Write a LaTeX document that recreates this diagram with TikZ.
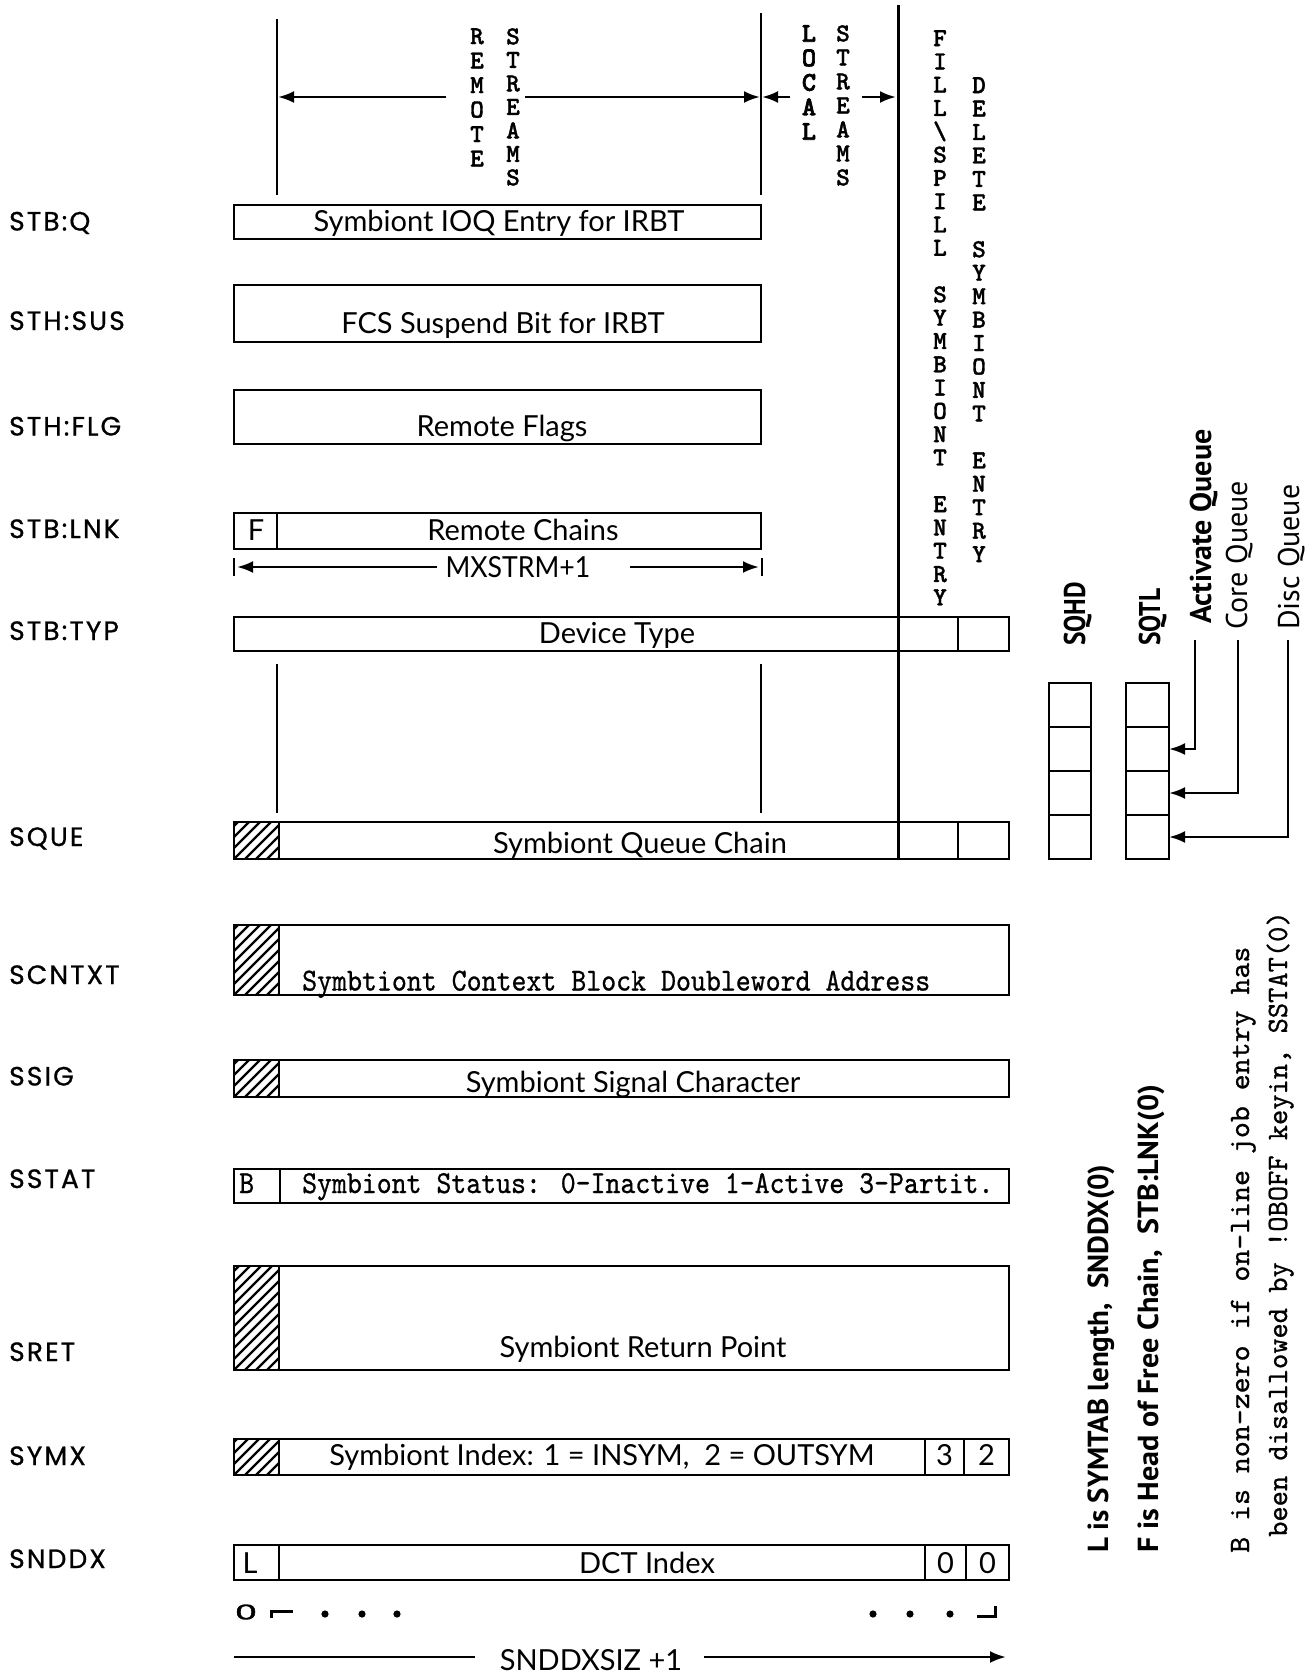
\documentclass[tikz,border=0pt]{standalone}
\usepackage{fontspec}
\setmainfont{Lato}
\newfontfamily\lblfont[LetterSpace=8,FakeBold=0.8]{Poppins}
\newfontfamily\ptfont{PT Sans}
\newfontfamily\ptfontfb[FakeBold=1.5]{PT Sans}
\newfontfamily\vfont[FakeBold=1.2]{lmmonolt10-bold.otf}
\newfontfamily\vfontb[FakeBold=2.4]{lmmonolt10-bold.otf}
\newfontfamily\twfont[FakeBold=0.8]{lmmono10-regular.otf}
\usetikzlibrary{arrows.meta}
\newcommand\hatchcell[4]{%
  \begin{scope}
    \clip (#1,#2) rectangle (#3,#4);
    \foreach \k in {0,11,...,176}{\draw[line width=2.2pt] (#1-110+\k,#4) -- ++(120,-120);}
  \end{scope}}
\begin{document}
\begin{tikzpicture}[x=1pt,y=-1pt,line join=miter,
  bx/.style={draw=black, line width=2.7pt},
  lbl/.style={anchor=base west, inner sep=0pt, font=\lblfont\fontsize{26.5}{30}\selectfont},
  bt/.style={anchor=base, inner sep=0pt, font=\fontsize{29}{32}\selectfont},
  tt/.style={anchor=base west, inner sep=0pt, font=\twfont\fontsize{32}{34}\selectfont},
  vl/.style={anchor=north, inner sep=0pt, align=center, font=\vfont\fontsize{26}{24.5}\selectfont},
  rot/.style={rotate=90, anchor=base west, inner sep=0pt},
  tip/.style={-{Latex[length=16pt,width=12pt]}},
  cell/.style={draw, line width=2.7pt, minimum height=44pt, anchor=north west, inner sep=0pt, outer sep=0pt},
]
\useasboundingbox[fill=white] (0,0) rectangle (1316,1674);

% ---------- top dimension lines ----------
\draw[line width=2.8pt] (277,19) -- (277,195);
\draw[line width=2.8pt] (761,13) -- (761,195);
\draw[line width=3pt] (898,5) -- (898,859);
\draw[line width=2.6pt, tip] (446,97) -- (278,97);
\draw[line width=2.6pt, tip] (525,97) -- (760,97);
\draw[line width=2.6pt, tip] (790,97) -- (762,97);
\draw[line width=2.6pt, tip] (862,97) -- (896,97);

\node[vl] (remote) at (477,28) {R\\E\\M\\O\\T\\E};
\node[vl, font=\vfont\fontsize{26}{23.5}\selectfont] (rstreams) at (513,28) {S\\T\\R\\E\\A\\M\\S};
\node[vl, font=\vfontb\fontsize{27}{24.5}\selectfont] (local) at (809,25) {L\\O\\C\\A\\L};
\node[vl, font=\vfont\fontsize{26}{24}\selectfont] (lstreams) at (843,25) {S\\T\\R\\E\\A\\M\\S};
\node[vl, font=\vfont\fontsize{26}{23.3}\selectfont] (fill) at (940,30) {F\\I\\L\\L\\\textbackslash\\S\\P\\I\\L\\L\\~\\S\\Y\\M\\B\\I\\O\\N\\T\\~\\E\\N\\T\\R\\Y};
\node[vl, font=\vfont\fontsize{26}{23.45}\selectfont] (delete) at (979,77) {D\\E\\L\\E\\T\\E\\~\\S\\Y\\M\\B\\I\\O\\N\\T\\~\\E\\N\\T\\R\\Y};

% ---------- left labels ----------
\node[lbl] (l1) at (9,230.5) {STB:Q};
\node[lbl] (l2) at (9,330) {STH:SUS};
\node[lbl] (l3) at (9,435.5) {STH:FLG};
\node[lbl] (l4) at (9,538) {STB:LNK};
\node[lbl] (l5) at (9,640) {STB:TYP};
\node[lbl] (l6) at (9,846) {SQUE};
\node[lbl] (l7) at (9,984) {SCNTXT};
\node[lbl] (l8) at (9,1085.5) {SSIG};
\node[lbl] (l9) at (9,1188) {SSTAT};
\node[lbl] (l10) at (9,1361) {SRET};
\node[lbl] (l11) at (9,1465) {SYMX};
\node[lbl] (l12) at (9,1568) {SNDDX};

% ---------- boxes ----------
\draw[bx] (234,205) rectangle (761,239);
\node[bt] (t1) at (499,231.5) {Symbiont IOQ Entry for IRBT};

\draw[bx] (234,285) rectangle (761,342);
\node[bt] (t2) at (503,333) {FCS Suspend Bit for IRBT};

\draw[bx] (234,390) rectangle (761,444);
\node[bt] (t3) at (502,436.5) {Remote Flags};

\draw[bx] (234,513) rectangle (761,549);
\draw[bx] (277,513) -- (277,549);
\node[bt] (f) at (256,540) {F};
\node[bt] (t4) at (523,540) {Remote Chains};

% MXSTRM+1
\draw[line width=2.6pt] (234,558) -- (234,576);
\draw[line width=2.6pt] (762,558) -- (762,576);
\node[bt] (mx) at (518,577) {\scalebox{0.92}[1]{MXSTRM+1}};
\draw[line width=2.6pt, tip] (437,567) -- (237,567);
\draw[line width=2.6pt, tip] (630,567) -- (759,567);

\draw[bx] (234,617) rectangle (1009,651);
\draw[bx] (958,617) -- (958,651);
\node[bt] (t5) at (617,643.5) {Device Type};

\draw[line width=2.8pt] (277,664) -- (277,813);
\draw[line width=2.8pt] (761,664) -- (761,813);

% SQUE
\hatchcell{234}{822}{279}{859}
\draw[bx] (234,822) rectangle (1009,859);
\draw[bx] (279,822) -- (279,859);
\draw[bx] (958,822) -- (958,859);
\node[bt] (t6) at (640,853) {Symbiont Queue Chain};

% SCNTXT
\hatchcell{234}{925}{279}{995}
\draw[bx] (234,925) rectangle (1009,995);
\draw[bx] (279,925) -- (279,995);
\node[tt] (t7) at (302,990.5) {\scalebox{0.89}[1]{Symbtiont Context Block Doubleword Address}};

% SSIG
\hatchcell{234}{1060}{279}{1097}
\draw[bx] (234,1060) rectangle (1009,1097);
\draw[bx] (279,1060) -- (279,1097);
\node[bt] (t8) at (633,1092) {Symbiont Signal Character};

% SSTAT
\draw[bx] (234,1169) rectangle (1009,1203);
\draw[bx] (280,1169) -- (280,1203);
\node[tt] (b) at (239,1193) {\scalebox{0.89}[1]{B}};
\node[tt] (t9) at (302,1193) {\scalebox{0.888}[1]{Symbiont Status: 0-Inactive 1-Active 3-Partit.}};

% SRET
\hatchcell{234}{1266}{279}{1370}
\draw[bx] (234,1266) rectangle (1009,1370);
\draw[bx] (279,1266) -- (279,1370);
\node[bt] (t10) at (643,1357.5) {Symbiont Return Point};

% SYMX
\hatchcell{234}{1439}{279}{1475}
\draw[bx] (234,1439) rectangle (1009,1475);
\draw[bx] (279,1439) -- (279,1475);
\draw[bx] (925,1439) -- (925,1475);
\draw[bx] (964,1439) -- (964,1475);
\node[bt] (t11) at (602,1465) {Symbiont Index: 1 = INSYM,\ \ 2 = OUTSYM};
\node[bt] (c3) at (944.5,1465) {3};
\node[bt] (c2) at (986.5,1465) {2};

% SNDDX
\draw[bx] (234,1545) rectangle (1009,1580);
\draw[bx] (279,1545) -- (279,1580);
\draw[bx] (925,1545) -- (925,1580);
\draw[bx] (966,1545) -- (966,1580);
\node[bt] (lcell) at (250,1573) {L};
\node[bt] (t12) at (647,1573) {DCT Index};
\node[bt] (c0a) at (945.5,1573) {0};
\node[bt] (c0b) at (987.5,1573) {0};

% bit row
\node[inner sep=0pt, font=\ptfontfb\fontsize{26}{28}\selectfont] (bit0) at (246,1612) {\scalebox{1.5}[0.8]{0}};
\draw[line width=3pt] (271,1618) -- (271,1611) -- (293,1611);
\fill (325,1614) circle (3.6pt);
\fill (362,1614) circle (3.6pt);
\fill (397,1614) circle (3.6pt);
\fill (873,1614) circle (3.6pt);
\fill (910,1614) circle (3.6pt);
\fill (950,1614) circle (3.6pt);
\draw[line width=3pt] (977,1616) -- (995,1616) -- (995,1606);

% SNDDXSIZ+1
\node[bt] (sz) at (591,1670) {SNDDXSIZ +1};
\draw[line width=2.6pt] (475,1657) -- (234,1657);
\draw[line width=2.6pt, tip] (704,1657) -- (1006,1657);

% ---------- queue heads / tails ----------
\node[cell, minimum width=42pt] (hd1) at (1049,683) {};
\node[cell, minimum width=42pt] (hd2) at (1049,727) {};
\node[cell, minimum width=42pt] (hd3) at (1049,771) {};
\node[cell, minimum width=42pt] (hd4) at (1049,815) {};
\node[cell, minimum width=43pt] (tl1) at (1126,683) {};
\node[cell, minimum width=43pt] (tl2) at (1126,727) {};
\node[cell, minimum width=43pt] (tl3) at (1126,771) {};
\node[cell, minimum width=43pt] (tl4) at (1126,815) {};

\node[rot, font=\ptfont\bfseries\fontsize{30}{32}\selectfont] (sqhd) at (1085,646) {\scalebox{0.85}[1]{SQHD}};
\node[rot, font=\ptfont\bfseries\fontsize{30}{32}\selectfont] (sqtl) at (1160,646) {\scalebox{0.85}[1]{SQTL}};
\node[rot, font=\ptfont\bfseries\fontsize{30}{32}\selectfont] (aq) at (1211,624) {Activate Queue};
\node[rot, font=\ptfont\fontsize{30}{32}\selectfont] (cq) at (1247,630) {Core Queue};
\node[rot, font=\ptfont\fontsize{30}{32}\selectfont] (dq) at (1299,630) {Disc Queue};

\coordinate (aqs) at (1195,640);
\coordinate (cqs) at (1238,640);
\coordinate (dqs) at (1288,640);
\draw[line width=2.6pt, tip] (aqs) |- (tl2.east);
\draw[line width=2.6pt, tip] (cqs) |- (tl3.east);
\draw[line width=2.6pt, tip] (dqs) |- (tl4.east);

% ---------- notes ----------
\node[rot, font=\ptfont\bfseries\fontsize{29}{32}\selectfont] (nL) at (1108,1553) {L is SYMTAB length,\ \ SNDDX(0)};
\node[rot, font=\ptfont\bfseries\fontsize{29}{32}\selectfont] (nF) at (1158,1553) {\scalebox{1.04}[1]{F is Head of Free Chain,\ \ STB:LNK(0)}};
\node[rot, font=\twfont\fontsize{29.5}{32}\selectfont] (nB1) at (1249,1553) {\scalebox{1.03}[1]{B is non-zero if on-line job entry has}};
\node[rot, font=\twfont\fontsize{29.5}{32}\selectfont] (nB2) at (1287,1537) {\scalebox{0.985}[1]{been disallowed by !OBOFF keyin, SSTAT(0)}};

\end{tikzpicture}
\end{document}
